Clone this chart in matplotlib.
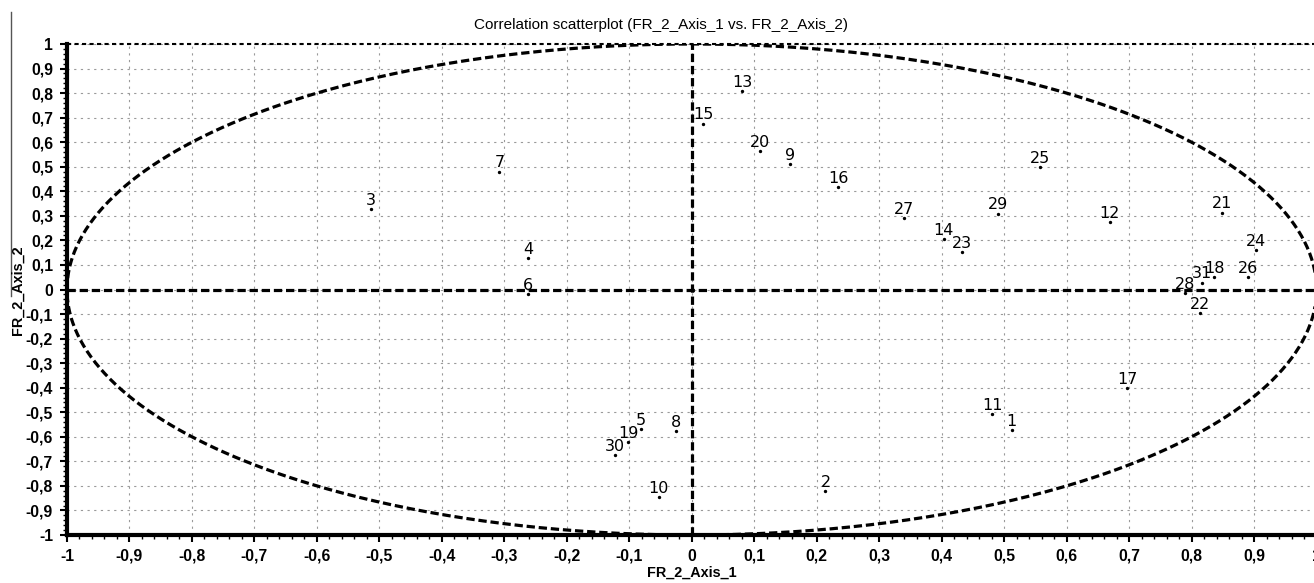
import numpy as np
import matplotlib
matplotlib.use("Agg")
import matplotlib.pyplot as plt
from matplotlib.lines import Line2D

# ---- data ----
labels = [str(i) for i in range(1, 32)]
axis1 = [0.512, 0.214, -0.514, -0.262, -0.082, -0.262, -0.308, -0.026, 0.158, -0.053,
         0.481, 0.669, 0.081, 0.403, 0.018, 0.234, 0.697, 0.836, -0.102, 0.110,
         0.849, 0.813, 0.433, 0.903, 0.558, 0.890, 0.340, 0.789, 0.490, -0.123, 0.816]
axis2 = [-0.571, -0.820, 0.327, 0.129, -0.569, -0.020, 0.480, -0.576, 0.510, -0.846,
         -0.506, 0.275, 0.809, 0.204, 0.676, 0.418, -0.401, 0.050, -0.622, 0.565,
         0.313, -0.095, 0.152, 0.160, 0.499, 0.050, 0.290, -0.013, 0.309, -0.676, 0.028]
tick_vals = [round(-1 + 0.1 * i, 1) for i in range(21)]
tick_labels = [("%g" % v).replace(".", ",") for v in tick_vals]

title = "Correlation scatterplot (FR_2_Axis_1 vs. FR_2_Axis_2)"
xlabel = "FR_2_Axis_1"
ylabel = "FR_2_Axis_2"

# ---- figure ----
W, H = 1314, 583
fig = plt.figure(figsize=(W / 100, H / 100), dpi=100)
left_px, right_px, top_px, bot_px = 67, 1316.5, 44, 535
ax = fig.add_axes([left_px / W, 1 - bot_px / H, (right_px - left_px) / W, (bot_px - top_px) / H])
ax.set_xlim(-1, 1)
ax.set_ylim(-1, 1)

tick_font = dict(family="Liberation Sans", weight="bold", size=11.3)

# grid
for v in tick_vals:
    ax.axvline(v, color="#9a9a9a", lw=0.8, ls=(0, (2, 4)), zorder=0)
    ax.axhline(v, color="#9a9a9a", lw=0.8, ls=(0, (2, 4)), zorder=0)

# spines
for s in ["top", "right"]:
    ax.spines[s].set_visible(False)
ax.spines["left"].set_linewidth(3)
ax.spines["bottom"].set_linewidth(3)
ax.plot([-1, 1], [1, 1], color="black", lw=1.5, ls=(0, (2, 1.6)), clip_on=False, zorder=2)

# zero lines
dash = (0, (2.6, 1.2))
ax.axhline(0, color="black", lw=2.3, ls=dash, zorder=3)
ax.axvline(0, color="black", lw=2.3, ls=dash, zorder=3)

# correlation circle
t = np.linspace(0, 2 * np.pi, 800)
ax.plot(np.cos(t), np.sin(t), color="black", lw=2.3, ls=dash, zorder=3)

# ticks
ax.set_xticks(tick_vals)
ax.set_xticklabels(tick_labels, fontdict=tick_font)
ax.set_yticks(tick_vals)
ax.set_yticklabels(tick_labels, fontdict=tick_font)
ax.set_xticks(np.arange(-1, 1.0001, 0.02), minor=True)
ax.set_yticks(np.arange(-1, 1.0001, 0.02), minor=True)
ax.tick_params(which="major", length=5, width=1.5, direction="out", pad=5)
ax.tick_params(which="minor", length=3, width=1, direction="out")

# points and labels
ax.scatter(axis1, axis2, s=2, color="black", zorder=4)
for lab, x, y in zip(labels, axis1, axis2):
    ax.annotate(lab, (x, y), xytext=(0, 3), textcoords="offset points",
                ha="center", va="baseline", fontsize=11.5, family="DejaVu Sans",
                color="black", zorder=5)

# titles
fig.text(661 / W, 1 - 25 / H, title, ha="center", va="center",
         family="Liberation Sans", size=11)
ax.set_xlabel(xlabel, fontdict=dict(family="Liberation Sans", weight="bold", size=10.4), labelpad=1)
fig.text(18 / W, 1 - 290 / H, ylabel, rotation=90, ha="center", va="center",
         family="Liberation Sans", weight="bold", size=10.4)

# stray frame line on the left
fig.add_artist(Line2D([11 / W, 11 / W], [1 - 12 / H, 1 - 296 / H], color="#555555", lw=1))

fig.savefig("out.png", dpi=100)
